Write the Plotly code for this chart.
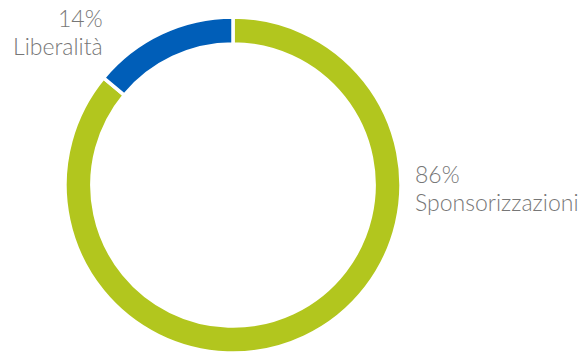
import plotly.graph_objects as go

# Ripartizione degli interventi
categories = ["Sponsorizzazioni", "Liberalità"]
values = [86, 14]
colors = ["#B2C61E", "#005EB8"]

W, H = 586, 353
TEXT_COLOR = "#777777"
FONT = dict(family="Lato", size=23, color=TEXT_COLOR, weight=300)

fig = go.Figure(
    go.Pie(
        labels=categories,
        values=values,
        sort=False,
        direction="clockwise",
        rotation=0,
        hole=0.84,
        marker=dict(colors=colors, line=dict(color="white", width=3.5)),
        textinfo="none",
        hoverinfo="label+percent",
        showlegend=False,
        domain=dict(x=[65 / W, 401 / W], y=[0, (H - 17) / H]),
    )
)

# Etichette esterne: percentuale sopra, categoria sotto
label_pos = {
    "Liberalità": dict(x=104, y=(18.5, 46.5), anchor="right"),
    "Sponsorizzazioni": dict(x=414, y=(173.5, 201.5), anchor="left"),
}
total = sum(values)
for cat, val in zip(categories, values):
    p = label_pos[cat]
    pct = f"{round(val / total * 100)}%"
    for txt, ypix in zip((pct, cat), p["y"]):
        fig.add_annotation(
            text=txt,
            xref="paper", yref="paper",
            x=p["x"] / W, y=1 - ypix / H,
            xanchor=p["anchor"], yanchor="middle",
            showarrow=False,
            font=FONT,
            borderpad=0,
        )

fig.update_layout(
    width=W, height=H,
    margin=dict(l=0, r=0, t=0, b=0),
    paper_bgcolor="white",
    plot_bgcolor="white",
)

fig.write_html("out.html")
